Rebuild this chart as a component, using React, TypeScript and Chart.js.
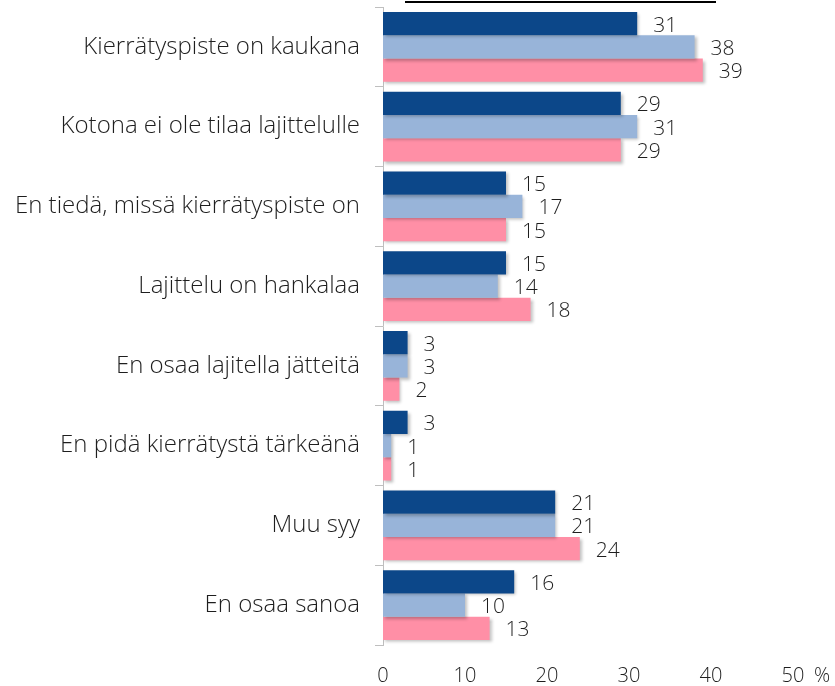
import React, { useEffect, useRef } from "react";
import { Chart, registerables } from "chart.js";

Chart.register(...registerables);

const categories = [
  "Kierrätyspiste on kaukana",
  "Kotona ei ole tilaa lajittelulle",
  "En tiedä, missä kierrätyspiste on",
  "Lajittelu on hankalaa",
  "En osaa lajitella jätteitä",
  "En pidä kierrätystä tärkeänä",
  "Muu syy",
  "En osaa sanoa",
];

const seriesA = [31, 29, 15, 15, 3, 3, 21, 16];
const seriesB = [38, 31, 17, 14, 3, 1, 21, 10];
const seriesC = [39, 29, 15, 18, 2, 1, 24, 13];

const xTicks = [0, 10, 20, 30, 40, 50];
const unitLabel = "%";

const colors = ["#0c4789", "#98b4d9", "#ff8fa6"];
const FONT = "'Open Sans', Lato, sans-serif";
const TEXT = "#1e1e1e";

export default function App() {
  const ref = useRef<HTMLCanvasElement | null>(null);

  useEffect(() => {
    if (!ref.current) return;

    const shadowPlugin = {
      id: "barShadow",
      beforeDatasetsDraw(chart: any) {
        const ctx = chart.ctx;
        ctx.save();
        ctx.shadowColor = "rgba(0,0,0,0.25)";
        ctx.shadowBlur = 3;
        ctx.shadowOffsetX = 2;
        ctx.shadowOffsetY = 2;
      },
      afterDatasetsDraw(chart: any) {
        chart.ctx.restore();
      },
    };

    const labelPlugin = {
      id: "valueLabels",
      afterDraw(chart: any) {
        const ctx = chart.ctx;
        ctx.save();
        ctx.font = `300 21px ${FONT}`;
        ctx.fillStyle = TEXT;
        ctx.textAlign = "left";
        ctx.textBaseline = "middle";
        chart.data.datasets.forEach((ds: any, di: number) => {
          const meta = chart.getDatasetMeta(di);
          meta.data.forEach((bar: any, i: number) => {
            ctx.fillText(String(ds.data[i]), bar.x + 16, bar.y + 2);
          });
        });
        const xs = chart.scales.x;
        const last = xTicks[xTicks.length - 1];
        const px = xs.getPixelForValue(last);
        ctx.font = `300 20px ${FONT}`;
        ctx.fillText(unitLabel, px + 21, 676);
        ctx.restore();
      },
    };

    const chart = new Chart(ref.current, {
      type: "bar",
      data: {
        labels: categories,
        datasets: [
          { label: "A", data: seriesA, backgroundColor: colors[0] },
          { label: "B", data: seriesB, backgroundColor: colors[1] },
          { label: "C", data: seriesC, backgroundColor: colors[2] },
        ],
      },
      options: {
        indexAxis: "y",
        animation: false,
        responsive: false,
        maintainAspectRatio: false,
        layout: { padding: { left: 0, right: 42, top: 7, bottom: 0 } },
        datasets: {
          bar: { categoryPercentage: 0.875, barPercentage: 1.0 },
        },
        plugins: {
          legend: { display: false },
          tooltip: { enabled: false },
        },
        scales: {
          x: {
            min: 0,
            max: 50,
            afterBuildTicks(scale: any) {
              scale.ticks = xTicks.map((v) => ({ value: v }));
            },
            grid: { display: false, drawTicks: false },
            border: { display: false },
            ticks: {
              color: TEXT,
              font: { family: FONT, size: 20, weight: "300" },
              padding: 19,
            },
            afterFit(scale: any) {
              scale.height = 41;
              scale.paddingLeft = 0;
              scale.paddingRight = 0;
            },
          },
          y: {
            grid: {
              offset: true,
              drawOnChartArea: false,
              drawTicks: true,
              tickLength: 8,
              color: "#bfbfbf",
            },
            border: { display: true, color: "#bfbfbf" },
            ticks: {
              color: TEXT,
              font: { family: FONT, size: 24, weight: "300" },
              padding: 15,
            },
            afterFit(scale: any) {
              scale.width = 383;
              scale.paddingTop = 0;
              scale.paddingBottom = 0;
            },
          },
        },
      },
      plugins: [shadowPlugin, labelPlugin],
    });

    return () => chart.destroy();
  }, []);

  return (
    <div style={{ position: "fixed", left: 0, top: 0, width: 835, height: 686, background: "#fff" }}>
      <div
        style={{
          position: "absolute",
          left: 405,
          top: 1,
          width: 311,
          height: 2,
          background: "#000",
        }}
      />
      <canvas ref={ref} width={835} height={686} style={{ display: "block" }} />
    </div>
  );
}
